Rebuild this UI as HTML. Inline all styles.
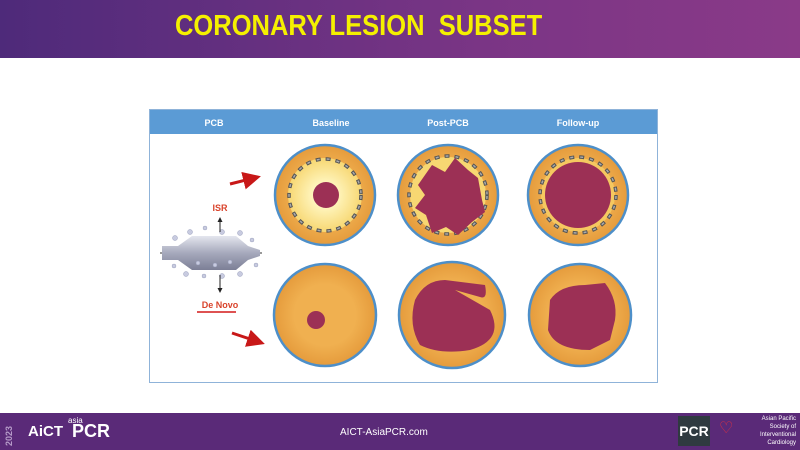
<!DOCTYPE html>
<html><head><style>
body{margin:0;width:800px;height:450px;position:relative;background:#fff;overflow:hidden;font-family:"Liberation Sans",sans-serif}
.top{position:absolute;left:0;top:0;width:800px;height:58px;background:linear-gradient(90deg,#4e2a7a,#7a3585 60%,#8a3a88)}
.title{position:absolute;left:175px;top:10px;font-size:29px;font-weight:bold;color:#f5f000;transform:scaleX(0.88);transform-origin:left top;white-space:nowrap}
.foot{position:absolute;left:0;top:413px;width:800px;height:37px;background:#5a2a78}
</style></head><body>
<div class="top"></div><div class="title">CORONARY LESION&nbsp; SUBSET</div>
<svg width="800" height="450" style="position:absolute;left:0;top:0">
<defs>
<radialGradient id="or" cx="50%" cy="50%" r="50%"><stop offset="0.6" stop-color="#f0b050"/><stop offset="1" stop-color="#e59b3c"/></radialGradient>
<radialGradient id="yl" cx="50%" cy="50%" r="50%"><stop offset="0.3" stop-color="#fff6c0"/><stop offset="1" stop-color="#f7d772"/></radialGradient>
<linearGradient id="bl" x1="0" y1="0" x2="0" y2="1"><stop offset="0" stop-color="#e4e6ee"/><stop offset="0.5" stop-color="#a6a9bc"/><stop offset="1" stop-color="#7c7f96"/></linearGradient>
<marker id="ah" markerWidth="6" markerHeight="6" refX="5" refY="3" orient="auto"><path d="M0,0L6,3L0,6z" fill="#c81818"/></marker>
<marker id="bk" markerWidth="5" markerHeight="5" refX="4" refY="2.5" orient="auto"><path d="M0,0L5,2.5L0,5z" fill="#222"/></marker>
</defs>
<rect x="149.5" y="109.5" width="508" height="273" fill="#fff" stroke="#8fb3d9"/>
<rect x="150" y="110" width="507" height="24" fill="#5b9bd5"/>
<g fill="#fff" font-size="9" font-weight="bold" text-anchor="middle">
<text x="214" y="126">PCB</text><text x="331" y="126">Baseline</text><text x="448" y="126">Post-PCB</text><text x="578" y="126">Follow-up</text></g>
<g stroke="#4d8fc9" stroke-width="2.5">
<circle cx="325" cy="195" r="50" fill="url(#or)"/>
<circle cx="448" cy="195" r="50" fill="url(#or)"/>
<circle cx="578" cy="195" r="50" fill="url(#or)"/>
<circle cx="325" cy="315" r="51" fill="url(#or)"/>
<circle cx="452" cy="315" r="53" fill="url(#or)"/>
<circle cx="580" cy="315" r="51" fill="url(#or)"/>
</g>
<circle cx="325" cy="195" r="37" fill="url(#yl)"/>
<circle cx="448" cy="195" r="38" fill="#f7d772"/>
<circle cx="578" cy="195" r="37" fill="#f5c860"/>
<g fill="none" stroke="#555" stroke-width="3.5" stroke-dasharray="5 5">
<circle cx="325" cy="195" r="36"/><circle cx="448" cy="195" r="39"/><circle cx="578" cy="195" r="38"/></g>
<g fill="none" stroke="#aaa" stroke-width="1.5" stroke-dasharray="3 7" stroke-dashoffset="-1">
<circle cx="325" cy="195" r="36"/><circle cx="448" cy="195" r="39"/><circle cx="578" cy="195" r="38"/></g>
<g fill="#9c3055">
<circle cx="326" cy="195" r="13"/>
<path d="M418,185 L432,165 L445,172 L455,158 L468,170 L478,178 L482,200 L485,212 L472,222 L458,235 L446,227 L432,233 L426,215 L415,208 L425,195z"/>
<circle cx="578" cy="195" r="33"/>
<circle cx="316" cy="320" r="9"/>
<path d="M415,300 Q425,280 445,280 L485,285 Q488,300 480,297 L455,290 L490,310 Q505,340 470,350 Q440,355 420,345 Q408,325 415,300z"/>
<path d="M550,300 Q560,285 585,285 L605,283 Q618,300 615,320 L610,340 L590,350 Q555,350 548,330z"/>
</g>
<g>
<line x1="160" y1="253" x2="262" y2="253" stroke="#333" stroke-width="1"/>
<path d="M162,246 L178,246 L192,236 L236,236 L248,246 L260,250 L260,256 L248,260 L236,270 L192,270 L178,260 L162,260z" fill="url(#bl)"/>
<g fill="#c8cbe0" stroke="#9aa0bc" stroke-width="0.5">
<circle cx="175" cy="238" r="2.5"/><circle cx="190" cy="232" r="2.5"/><circle cx="205" cy="228" r="2"/><circle cx="222" cy="232" r="2.5"/><circle cx="240" cy="233" r="2.5"/><circle cx="252" cy="240" r="2"/><circle cx="256" cy="265" r="2"/><circle cx="240" cy="274" r="2.5"/><circle cx="222" cy="276" r="2.5"/><circle cx="204" cy="276" r="2"/><circle cx="186" cy="274" r="2.5"/><circle cx="174" cy="266" r="2"/><circle cx="198" cy="263" r="2"/><circle cx="215" cy="265" r="2"/><circle cx="230" cy="262" r="2"/></g>
</g>
<line x1="220" y1="232" x2="220" y2="218" stroke="#222" marker-end="url(#bk)"/>
<line x1="220" y1="275" x2="220" y2="292" stroke="#222" marker-end="url(#bk)"/>
<text x="220" y="211" fill="#d9432b" font-size="9" font-weight="bold" text-anchor="middle">ISR</text>
<text x="220" y="308" fill="#d9432b" font-size="9" font-weight="bold" text-anchor="middle">De Novo</text>
<line x1="197" y1="312" x2="236" y2="312" stroke="#d41818" stroke-width="1.5"/>
<line x1="230" y1="184" x2="258" y2="177" stroke="#c81818" stroke-width="3" marker-end="url(#ah)"/>
<line x1="232" y1="333" x2="262" y2="343" stroke="#c81818" stroke-width="3" marker-end="url(#ah)"/>
</svg>
<div class="foot"></div>
<div style="position:absolute;left:4px;top:418px;width:12px;height:28px;color:#b59ac8;font-size:9px;font-weight:bold;writing-mode:vertical-rl;transform:rotate(180deg)">2023</div>
<div style="position:absolute;left:28px;top:423px;color:#fff;font-size:15px;font-weight:bold">AiCT</div>
<div style="position:absolute;left:68px;top:416px;color:#fff;font-size:8px">asia</div>
<div style="position:absolute;left:72px;top:421px;color:#fff;font-size:18px;font-weight:bold">PCR</div>
<div style="position:absolute;left:340px;top:427px;color:#fff;font-size:10px">AICT-AsiaPCR.com</div>
<div style="position:absolute;left:678px;top:416px;width:32px;height:30px;background:#2f3a40;color:#fff;font-size:14px;font-weight:bold;text-align:center;line-height:30px">PCR</div>
<div style="position:absolute;left:719px;top:418px;color:#e03040;font-size:16px">♡</div>
<div style="position:absolute;left:740px;top:415px;width:56px;color:#fff;font-size:6px;text-align:right;line-height:8px">Asian Pacific<br>Society of<br>Interventional<br>Cardiology</div>
</body></html>
